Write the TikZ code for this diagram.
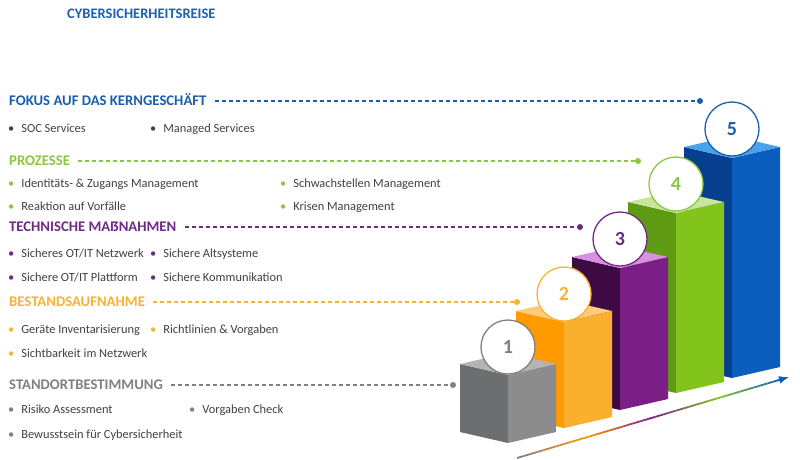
\documentclass[tikz,border=0pt]{standalone}
\usepackage{fontspec}
\setmainfont{Carlito}
\usepackage{tikz}
\usetikzlibrary{arrows.meta,calc}

\definecolor{titleblue}{HTML}{1F5FAF}
\definecolor{fokusblue}{HTML}{1B5EAB}
\definecolor{prozgreen}{HTML}{8DC63F}
\definecolor{techpurple}{HTML}{6F2A86}
\definecolor{bestorange}{HTML}{F9B233}
\definecolor{standgray}{HTML}{808080}
\definecolor{itemtext}{HTML}{404040}
\definecolor{grayL}{HTML}{6D6E70}
\definecolor{grayR}{HTML}{8C8C8C}
\definecolor{grayT}{HTML}{B4B4B4}
\definecolor{orangeL}{HTML}{FF9A00}
\definecolor{orangeR}{HTML}{FBAF2E}
\definecolor{orangeT}{HTML}{FDCB7A}
\definecolor{purpleL}{HTML}{3E0A43}
\definecolor{purpleR}{HTML}{7B1E86}
\definecolor{purpleT}{HTML}{D690E0}
\definecolor{greenL}{HTML}{5E9B13}
\definecolor{greenR}{HTML}{82C41C}
\definecolor{greenT}{HTML}{C9E59A}
\definecolor{blueL}{HTML}{073F8E}
\definecolor{blueR}{HTML}{0B5EBD}
\definecolor{blueT}{HTML}{48A3EC}

\newcommand{\bul}[1]{\textcolor{#1}{\textbullet}\hspace{7pt}}

\begin{document}
\begin{tikzpicture}[x=1pt, y=-1pt,
  head/.style={anchor=west, inner sep=0pt, text height=9pt, text depth=0pt, font=\fontsize{14.7}{15}\selectfont\bfseries, text=#1},
  item/.style={anchor=west, inner sep=0pt, text height=8pt, text depth=2pt, font=\fontsize{12.4}{13}\selectfont, text=itemtext},
  dashline/.style={#1, line width=1.2pt, dash pattern=on 4pt off 3pt},
  dot/.style={circle, fill=#1, inner sep=0pt, minimum size=6pt},
  num/.style={circle, draw=#1, fill=white, line width=1.3pt, minimum size=54pt, inner sep=0pt, text=#1, font=\fontsize{20}{20}\selectfont\bfseries}]
\useasboundingbox (0,0) rectangle (800,459);

% title
\node[anchor=west, inner sep=0pt, font=\fontsize{14.5}{15}\selectfont\bfseries, text=titleblue] (title) at (67,14) {CYBERSICHERHEITSREISE};

% blocks, back to front
\foreach \fx/\ft/\fb/\cl/\cr/\ct in {732/158/378/blueL/blueR/blueT, 676/213/393/greenL/greenR/greenT, 620/268/410/purpleL/purpleR/purpleT, 564/322/428/orangeL/orangeR/orangeT, 508/375/443/grayL/grayR/grayT}{
  \fill[\cl] (\fx-48,\ft-11) -- (\fx,\ft) -- (\fx,\fb) -- (\fx-48,\fb-11) -- cycle;
  \fill[\cr] (\fx,\ft) -- (\fx+48,\ft-11) -- (\fx+48,\fb-11) -- (\fx,\fb) -- cycle;
  \fill[\ct] (\fx-48,\ft-11) -- (\fx,\ft-22) -- (\fx+48,\ft-11) -- (\fx,\ft) -- cycle;
}

% step numbers
\node[num=fokusblue] (n5) at (732,129) {5};
\node[num=prozgreen] (n4) at (676,184) {4};
\node[num=techpurple] (n3) at (620,239) {3};
\node[num=bestorange] (n2) at (564,294) {2};
\node[num=standgray] (n1) at (508,347) {1};

% journey arrow
\coordinate (arrS) at (517,458);
\coordinate (arrE) at (789,377);
\foreach \ca/\cb/\s in {standgray/orangeL/0, orangeL/purpleR/1, purpleR/greenR/2, greenR/blueR/3}{
  \foreach \k in {0,...,9}{
    \pgfmathsetmacro\mix{100-10*\k}
    \draw[\ca!\mix!\cb, line width=1.8pt] ($(arrS)!{(\s*10+\k)/40*0.97}!(arrE)$) -- ($(arrS)!{(\s*10+\k+1)/40*0.97}!(arrE)$);
  }
}
\draw[blueR, line width=1.8pt, -{Latex[length=10pt,width=8pt]}] ($(arrS)!0.96!(arrE)$) -- (arrE);

% levels
\node[head=fokusblue] (fokus) at (9,101) {FOKUS AUF DAS KERNGESCHÄFT};
\node[dot=fokusblue] (d5) at (700,101) {};
\draw[dashline=fokusblue] ([xshift=8pt]fokus.east) -- (d5);
\node[item] (soc) at (8,129) {\bul{itemtext}SOC Services};
\node[item] (managed) at (150,129) {\bul{itemtext}Managed Services};

\node[head=prozgreen] (proz) at (9,161) {PROZESSE};
\node[dot=prozgreen] (d4) at (638,161) {};
\draw[dashline=prozgreen] ([xshift=8pt]proz.east) -- (d4);
\node[item] (iam) at (8,184) {\bul{prozgreen}Identitäts- \& Zugangs Management};
\node[item] (vuln) at (280,184) {\bul{prozgreen}Schwachstellen Management};
\node[item] (incident) at (8,207) {\bul{prozgreen}Reaktion auf Vorfälle};
\node[item] (crisis) at (280,207) {\bul{prozgreen}Krisen Management};

\node[head=techpurple] (tech) at (9,227) {TECHNISCHE MAẞNAHMEN};
\node[dot=techpurple] (d3) at (580,227) {};
\draw[dashline=techpurple] ([xshift=8pt]tech.east) -- (d3);
\node[item] (netz) at (8,254) {\bul{techpurple}Sicheres OT/IT Netzwerk};
\node[item] (alt) at (150,254) {\bul{techpurple}Sichere Altsysteme};
\node[item] (platt) at (8,278) {\bul{techpurple}Sichere OT/IT Plattform};
\node[item] (komm) at (150,278) {\bul{techpurple}Sichere Kommunikation};

\node[head=bestorange] (best) at (9,302) {BESTANDSAUFNAHME};
\node[dot=bestorange] (d2) at (517,302) {};
\draw[dashline=bestorange] ([xshift=8pt]best.east) -- (d2);
\node[item] (inv) at (8,330) {\bul{bestorange}Geräte Inventarisierung};
\node[item] (richt) at (150,330) {\bul{bestorange}Richtlinien \& Vorgaben};
\node[item] (sicht) at (8,354) {\bul{bestorange}Sichtbarkeit im Netzwerk};

\node[head=standgray] (stand) at (9,385) {STANDORTBESTIMMUNG};
\node[dot=standgray] (d1) at (453,385) {};
\draw[dashline=standgray] ([xshift=8pt]stand.east) -- (d1);
\node[item] (risk) at (8,410) {\bul{standgray}Risiko Assessment};
\node[item] (check) at (189,410) {\bul{standgray}Vorgaben Check};
\node[item] (aware) at (8,435) {\bul{standgray}Bewusstsein für Cybersicherheit};
\end{tikzpicture}
\end{document}
